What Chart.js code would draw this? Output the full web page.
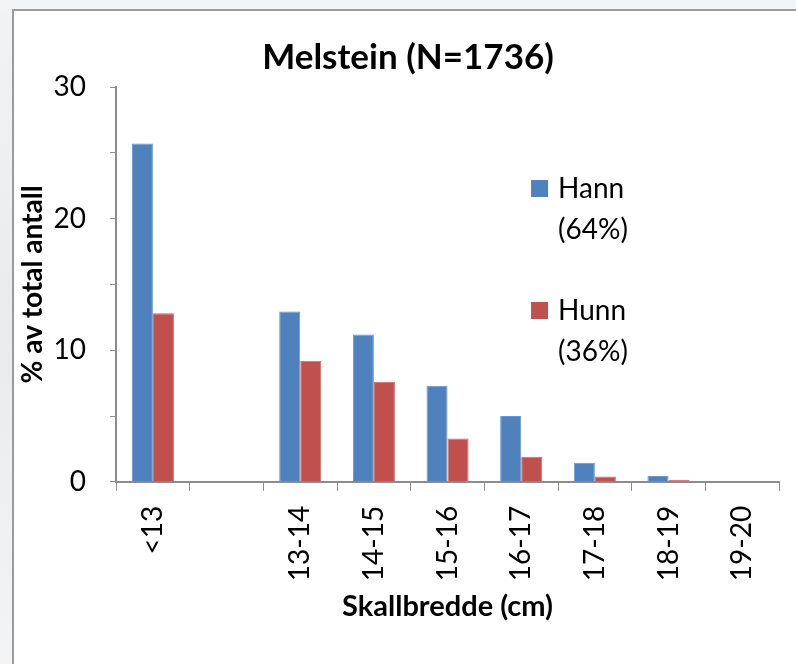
<!DOCTYPE html>
<html>
<head>
<meta charset="utf-8">
<script src="https://cdn.jsdelivr.net/npm/chart.js@4/dist/chart.umd.min.js"></script>
<style>
  html, body { margin: 0; padding: 0; background: #ffffff; }
  #wrap { width: 796px; height: 664px; position: relative; }
</style>
</head>
<body>
<div id="wrap"><canvas id="chart" width="796" height="664"></canvas></div>
<script>
// Skallbredde-klasser (den andre kategorien er tom i originalen)
const categories = ['<13', '', '13-14', '14-15', '15-16', '16-17', '17-18', '18-19', '19-20'];
const hannValues = [25.7, null, 12.95, 11.2, 7.3, 5.0, 1.45, 0.45, 0];
const hunnValues = [12.8, null, 9.2, 7.6, 3.3, 1.9, 0.4, 0.15, 0];
const hannLegend = ['Hann', '(64%)'];
const hunnLegend = ['Hunn', '(36%)'];
const chartTitle = 'Melstein (N=1736)';

const FONT = "Lato, 'Open Sans', sans-serif";
const axisGrey = '#8c8c8c';

// bakgrunn og ramme rundt diagrammet
const framePlugin = {
    id: 'frame',
    beforeDraw(chart) {
        const ctx = chart.ctx;
        const w = chart.width, h = chart.height;
        ctx.save();
        ctx.fillStyle = '#ffffff';
        ctx.fillRect(0, 0, w, h);
        const g = ctx.createLinearGradient(0, 0, 0, h);
        g.addColorStop(0, '#f2f3f4');
        g.addColorStop(0.5, '#e9ebed');
        g.addColorStop(1, '#f3f4f5');
        ctx.fillStyle = g;
        ctx.fillRect(0, 0, 12, h);
        ctx.fillStyle = '#f3f4f5';
        ctx.fillRect(0, 0, w, 9);
        ctx.strokeStyle = '#9b9b9b';
        ctx.lineWidth = 2;
        ctx.beginPath();
        ctx.moveTo(13, h);
        ctx.lineTo(13, 10);
        ctx.lineTo(w, 10);
        ctx.stroke();
        ctx.restore();
    }
};

// tittelen tegnes litt til hoyre for midten, som i originalen
const titlePlugin = {
    id: 'shiftedTitle',
    afterDraw(chart) {
        const t = chart.titleBlock;
        const ctx = chart.ctx;
        ctx.save();
        ctx.font = 'bold 35px ' + FONT;
        ctx.fillStyle = '#000000';
        ctx.textAlign = 'center';
        ctx.textBaseline = 'middle';
        ctx.fillText(chartTitle, chart.width / 2 + 10, t.top + 37 + 21);
        ctx.restore();
    }
};

// legende med to linjer per serie, inne i plottet
const legendPlugin = {
    id: 'twoLineLegend',
    afterDraw(chart) {
        const ctx = chart.ctx;
        const area = chart.chartArea;
        const x = area.left + (area.right - area.left) * 0.626;
        let y = area.top + 93;
        ctx.save();
        ctx.font = '28px ' + FONT;
        ctx.textBaseline = 'alphabetic';
        chart.data.datasets.forEach(ds => {
            ctx.fillStyle = ds.backgroundColor;
            ctx.fillRect(x, y, 17, 17);
            ctx.fillStyle = '#000000';
            ds.label.forEach((line, i) => {
                ctx.fillText(line, x + 27, y + 18 + i * 41);
            });
            y += 122;
        });
        ctx.restore();
    }
};

new Chart(document.getElementById('chart'), {
    type: 'bar',
    data: {
        labels: categories,
        datasets: [
            {
                label: hannLegend,
                data: hannValues,
                backgroundColor: '#4f81bd',
                borderColor: '#6a95cc',
                borderWidth: 1,
                categoryPercentage: 0.571,
                barPercentage: 1.0
            },
            {
                label: hunnLegend,
                data: hunnValues,
                backgroundColor: '#c0504d',
                borderColor: '#cc6a67',
                borderWidth: 1,
                categoryPercentage: 0.571,
                barPercentage: 1.0
            }
        ]
    },
    options: {
        responsive: false,
        animation: false,
        layout: {
            padding: { left: 12, right: 17, top: 0, bottom: 36 }
        },
        plugins: {
            legend: { display: false },
            tooltip: { enabled: false },
            title: {
                // reserverer plass; selve teksten tegnes av titlePlugin
                display: true,
                text: chartTitle,
                color: 'rgba(0,0,0,0)',
                font: { family: FONT, size: 35, weight: 'bold' },
                padding: { top: 37, bottom: 8 }
            }
        },
        scales: {
            x: {
                afterFit: scale => { scale.height -= 15; },
                grid: {
                    display: true,
                    drawOnChartArea: false,
                    drawTicks: true,
                    tickLength: 9,
                    color: axisGrey
                },
                border: { color: axisGrey, width: 2 },
                ticks: {
                    color: '#000000',
                    font: { family: FONT, size: 28 },
                    minRotation: 90,
                    maxRotation: 90,
                    autoSkip: false,
                    padding: 15
                },
                title: {
                    display: true,
                    text: 'Skallbredde (cm)',
                    color: '#000000',
                    font: { family: FONT, size: 29, weight: 'bold' },
                    padding: { top: 8, bottom: 4 }
                }
            },
            y: {
                min: 0,
                max: 30,
                // fit() reserverer dobbel padding; ta bort den ekstra delen
                afterFit: scale => { scale.width -= 24; },
                grid: {
                    display: true,
                    drawOnChartArea: false,
                    drawTicks: true,
                    tickLength: 6,
                    color: axisGrey
                },
                border: { color: axisGrey, width: 2 },
                ticks: {
                    stepSize: 5,
                    color: '#000000',
                    font: { family: FONT, size: 28 },
                    padding: 24,
                    callback: v => (v % 10 === 0 ? v : '')
                },
                title: {
                    display: true,
                    text: '% av total antall',
                    color: '#000000',
                    font: { family: FONT, size: 28, weight: 'bold' },
                    padding: { top: 4, bottom: 4 }
                }
            }
        }
    },
    plugins: [framePlugin, titlePlugin, legendPlugin]
});
</script>
</body>
</html>
